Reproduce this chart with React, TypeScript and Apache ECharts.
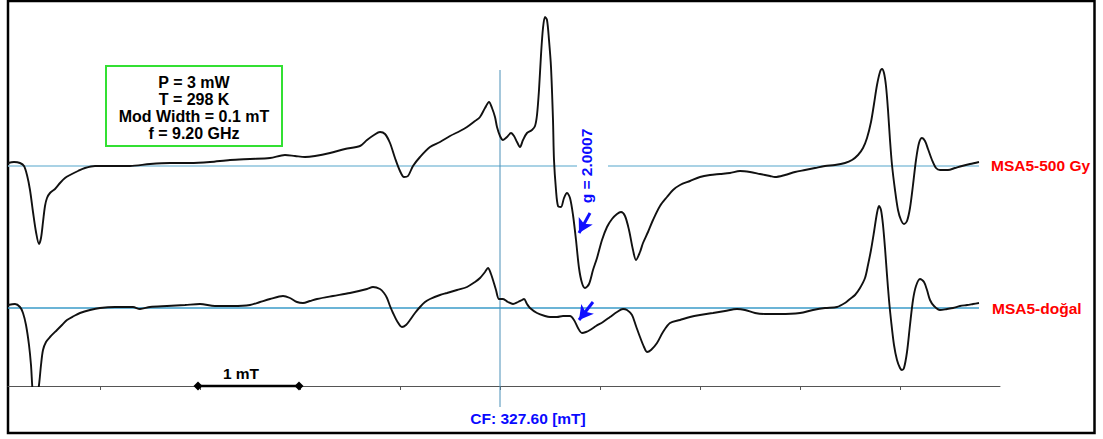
import React, { useEffect, useRef } from "react";
import * as echarts from "echarts";

// Magnetic field (mT) and first-derivative EPR signal (arb. units, relative to each trace's baseline)
const fieldUpper = [
  322.68, 322.74, 322.80, 322.84, 322.87, 322.90, 322.93, 322.96, 322.99, 323.01, 323.03, 323.05, 323.07, 323.10,
  323.15, 323.20, 323.25, 323.30, 323.38, 323.45, 323.55, 323.70, 323.90, 324.10, 324.30, 324.50, 324.70, 324.90,
  325.10, 325.30, 325.45, 325.55, 325.65, 325.75, 325.90, 326.05, 326.20, 326.27, 326.34, 326.40, 326.45, 326.50,
  326.55, 326.60, 326.64, 326.68, 326.73, 326.80, 326.90, 327.00, 327.10, 327.20, 327.27, 327.35, 327.40, 327.45,
  327.49, 327.52, 327.55, 327.57, 327.60, 327.63, 327.67, 327.71, 327.74, 327.77, 327.80, 327.83, 327.87, 327.92,
  327.95, 327.97, 327.99, 328.01, 328.03, 328.05, 328.07, 328.09, 328.11, 328.13, 328.14, 328.16, 328.18, 328.21,
  328.24, 328.27, 328.30, 328.33, 328.36, 328.39, 328.42, 328.45, 328.49, 328.53, 328.57, 328.62, 328.67, 328.72,
  328.77, 328.81, 328.85, 328.89, 328.93, 328.96, 329.00, 329.03, 329.08, 329.13, 329.20, 329.27, 329.33, 329.40,
  329.50, 329.60, 329.70, 329.80, 329.90, 330.00, 330.10, 330.20, 330.30, 330.35, 330.45, 330.55, 330.65, 330.75,
  330.85, 330.95, 331.05, 331.12, 331.18, 331.23, 331.27, 331.31, 331.34, 331.37, 331.40, 331.42, 331.44, 331.46,
  331.48, 331.50, 331.52, 331.55, 331.58, 331.61, 331.64, 331.67, 331.70, 331.73, 331.76, 331.79, 331.82, 331.85,
  331.88, 331.92, 331.96, 332.00, 332.08, 332.15, 332.22, 332.30, 332.39,
];
const signalUpper = [
  3, 4, 3, 0, -9, -24, -46, -66, -78, -72, -56, -40, -32, -27,
  -23, -17, -12, -9, -5, -2, 0, 0, 0, 2, 3, 3, 4, 6,
  7, 8, 11, 10, 9, 10, 13, 17, 20, 26, 31, 34, 32, 23,
  8, -5, -11, -10, 0, 9, 19, 24, 30, 35, 39, 45, 49, 58,
  64, 58, 49, 39, 30, 26, 29, 33, 30, 24, 19, 26, 33, 36,
  40, 51, 76, 111, 138, 149, 146, 126, 99, 46, 6, -24, -40, -41,
  -32, -27, -32, -49, -74, -102, -117, -122, -118, -104, -92, -74, -61, -53,
  -48, -46, -50, -64, -84, -94, -86, -77, -66, -54, -40, -31, -24, -19,
  -15, -11, -9, -8, -7, -5, -6, -8, -10, -11, -9, -6, -4, -2,
  0, 1, 3, 6, 11, 18, 28, 44, 62, 81, 94, 97, 93, 80,
  56, 26, 1, -24, -44, -54, -58, -55, -42, -19, 6, 23, 28, 25,
  17, 6, -2, -4, -4, -2, 0, 2, 4,
];

const fieldLower = [
  322.68, 322.75, 322.80, 322.83, 322.86, 322.89, 322.91, 322.93, 322.95, 322.97, 322.99, 323.01, 323.03, 323.06,
  323.10, 323.17, 323.22, 323.27, 323.34, 323.40, 323.50, 323.60, 323.75, 323.93, 324.00, 324.10, 324.27, 324.45,
  324.60, 324.75, 324.93, 325.10, 325.20, 325.30, 325.43, 325.50, 325.57, 325.63, 325.70, 325.77, 325.93, 326.10,
  326.27, 326.33, 326.40, 326.44, 326.47, 326.50, 326.53, 326.57, 326.62, 326.66, 326.70, 326.75, 326.80, 326.85,
  326.90, 327.00, 327.07, 327.17, 327.27, 327.35, 327.40, 327.45, 327.48, 327.51, 327.53, 327.56, 327.59, 327.63,
  327.68, 327.73, 327.78, 327.82, 327.84, 327.87, 327.90, 327.97, 328.05, 328.10, 328.17, 328.23, 328.30, 328.34,
  328.38, 328.42, 328.46, 328.50, 328.56, 328.63, 328.70, 328.77, 328.83, 328.87, 328.92, 328.96, 329.00, 329.04,
  329.07, 329.11, 329.17, 329.23, 329.30, 329.40, 329.50, 329.60, 329.73, 329.85, 329.97, 330.05, 330.15, 330.25,
  330.40, 330.60, 330.73, 330.85, 330.97, 331.05, 331.10, 331.15, 331.20, 331.25, 331.28, 331.31, 331.34, 331.37,
  331.39, 331.41, 331.43, 331.45, 331.47, 331.49, 331.51, 331.54, 331.57, 331.60, 331.62, 331.64, 331.67, 331.70,
  331.73, 331.76, 331.80, 331.84, 331.87, 331.90, 331.94, 332.00, 332.07, 332.13, 332.20, 332.27, 332.33, 332.39,
];
const signalLower = [
  3, 4, 1, -5, -17, -37, -57, -87, -90, -87, -77, -57, -42, -34,
  -29, -22, -17, -12, -8, -5, -2, 0, 1, 1, -1, 1, 2, 3,
  4, 2, 2, 3, 6, 9, 12, 10, 6, 5, 7, 9, 12, 15,
  19, 21, 19, 15, 10, 2, -5, -13, -19, -17, -12, -5, 1, 6,
  9, 13, 15, 18, 21, 26, 30, 36, 40, 34, 28, 18, 9, 9,
  6, 4, 6, 8, 9, 4, 0, -5, -8, -9, -9, -8, -8, -12,
  -20, -25, -24, -22, -18, -14, -9, -4, -1, -2, -7, -18, -29, -39,
  -44, -42, -35, -24, -15, -12, -9, -7, -5, -3, -1, -2, -5, -6,
  -6, -5, -2, 0, 1, 5, 9, 13, 20, 30, 43, 58, 76, 95,
  102, 98, 83, 60, 33, 8, -12, -37, -52, -60, -62, -60, -44, -17,
  8, 22, 29, 26, 18, 8, 2, -2, -1, 0, 2, 3, 4, 5,
];

// Layout of the stack (signal offsets in the same arbitrary units)
const offsetUpper = 220;
const offsetLower = 78;
const axisMin = 322.68;
const axisMax = 332.6;
const tickValues = [323.6, 324.6, 325.6, 326.6, 327.6, 328.6, 329.6, 330.6, 331.6];
const centerField = 327.6;
const scaleBar = [324.58, 325.59];
const gapUpper = [328.37, 328.68];
const baseEnd = 332.39;
const paramLines = ["P = 3 mW", "T = 298 K", "Mod Width = 0.1 mT", "f = 9.20 GHz"];
const seriesNames = ["MSA5-500 Gy", "MSA5-do\u011Fal"];

const FONT = "Arial, 'Liberation Sans', sans-serif";

export default function App() {
  const ref = useRef<HTMLDivElement>(null);

  useEffect(() => {
    document.body.style.margin = "0";
    const chart = echarts.init(ref.current!, null, { renderer: "svg" });
    const upper = fieldUpper.map((f, i) => [f, offsetUpper + signalUpper[i]]);
    const lower = fieldLower.map((f, i) => [f, offsetLower + signalLower[i]]);
    const baseCommon = {
      type: "line",
      symbol: "none",
      silent: true,
      animation: false,
    };
    const option: any = {
      animation: false,
      backgroundColor: "#ffffff",
      grid: { left: 8, right: 103, top: 6, bottom: 53 },
      xAxis: {
        type: "value",
        min: axisMin,
        max: axisMax,
        axisLine: { show: true, onZero: false, lineStyle: { color: "#555555", width: 1 } },
        axisTick: {
          show: true,
          inside: false,
          length: 4,
          customValues: tickValues,
          lineStyle: { color: "#555555", width: 1 },
        },
        axisLabel: { show: false },
        splitLine: { show: false },
      },
      yAxis: {
        type: "value",
        min: 0,
        max: 380,
        show: false,
        splitLine: { show: false },
      },
      series: [
        {
          ...baseCommon,
          name: "base-upper-a",
          data: [[axisMin, offsetUpper], [gapUpper[0], offsetUpper]],
          lineStyle: { color: "#8cc3dc", width: 1.3 },
        },
        {
          ...baseCommon,
          name: "base-upper-b",
          data: [[gapUpper[1], offsetUpper], [baseEnd, offsetUpper]],
          lineStyle: { color: "#8cc3dc", width: 1.3 },
        },
        {
          ...baseCommon,
          name: "base-lower",
          data: [[axisMin, offsetLower], [baseEnd, offsetLower]],
          lineStyle: { color: "#3a9bc8", width: 1.3 },
        },
        {
          ...baseCommon,
          name: "cf-line",
          clip: false,
          data: [[centerField, -21], [centerField, 316]],
          lineStyle: { color: "#4a90b8", width: 1 },
        },
        {
          type: "line",
          name: seriesNames[0],
          data: upper,
          symbol: "none",
          smooth: 0.3,
          clip: true,
          lineStyle: { color: "#111111", width: 1.9 },
          endLabel: {
            show: true,
            formatter: seriesNames[0],
            color: "#ff0000",
            fontWeight: "bold",
            fontSize: 15.5,
            fontFamily: FONT,
            distance: 12,
            offset: [0, 3],
          },
          markLine: {
            silent: true,
            symbol: ["none", "arrow"],
            symbolSize: [12, 14],
            label: { show: false },
            lineStyle: { color: "#1010ff", width: 3, type: "solid" },
            data: [
              [{ coord: [328.5, 173] }, { coord: [328.39, 153] }],
              [{ coord: [328.53, 84] }, { coord: [328.39, 66] }],
            ],
          },
        },
        {
          type: "line",
          name: seriesNames[1],
          data: lower,
          symbol: "none",
          smooth: 0.3,
          clip: true,
          lineStyle: { color: "#111111", width: 1.9 },
          endLabel: {
            show: true,
            formatter: seriesNames[1],
            color: "#ff0000",
            fontWeight: "bold",
            fontSize: 15.5,
            fontFamily: FONT,
            distance: 13,
            offset: [0, 5],
          },
        },
        {
          type: "line",
          name: "scale-bar",
          data: [[scaleBar[0], 0], [scaleBar[1], 0]],
          clip: false,
          silent: true,
          symbol: "diamond",
          symbolSize: 9,
          showSymbol: true,
          itemStyle: { color: "#000000" },
          lineStyle: { color: "#000000", width: 2.5 },
        },
      ],
      graphic: [
        {
          type: "rect",
          shape: { x: 8, y: 1, width: 1086.5, height: 432 },
          style: { fill: "none", stroke: "#000000", lineWidth: 2.5 },
          silent: true,
        },
        {
          type: "rect",
          shape: { x: 106, y: 66, width: 176, height: 80 },
          style: { fill: "#ffffff", stroke: "#33e033", lineWidth: 2 },
          silent: true,
        },
        ...paramLines.map((t, i) => ({
          type: "text",
          x: 194,
          y: 82 + i * 17.3,
          style: {
            text: t,
            fill: "#000000",
            font: `bold 16px ${FONT}`,
            align: "center",
            verticalAlign: "middle",
          },
          silent: true,
        })),
        {
          type: "text",
          x: 528,
          y: 418,
          style: {
            text: "CF: 327.60 [mT]",
            fill: "#0a0aff",
            font: `bold 15.5px ${FONT}`,
            align: "center",
            verticalAlign: "middle",
          },
          silent: true,
        },
        {
          type: "text",
          x: 241,
          y: 373,
          style: {
            text: "1 mT",
            fill: "#000000",
            font: `bold 15.5px ${FONT}`,
            align: "center",
            verticalAlign: "middle",
          },
          silent: true,
        },
        {
          type: "text",
          x: 586,
          y: 166,
          rotation: Math.PI / 2,
          style: {
            text: "g = 2.0007",
            fill: "#0a0aff",
            font: `bold 15.5px ${FONT}`,
            align: "center",
            verticalAlign: "middle",
          },
          silent: true,
        },
      ],
    };
    chart.setOption(option);
    return () => chart.dispose();
  }, []);

  return (
    <div
      ref={ref}
      style={{ position: "absolute", left: 0, top: 0, width: 1103, height: 439 }}
    />
  );
}
